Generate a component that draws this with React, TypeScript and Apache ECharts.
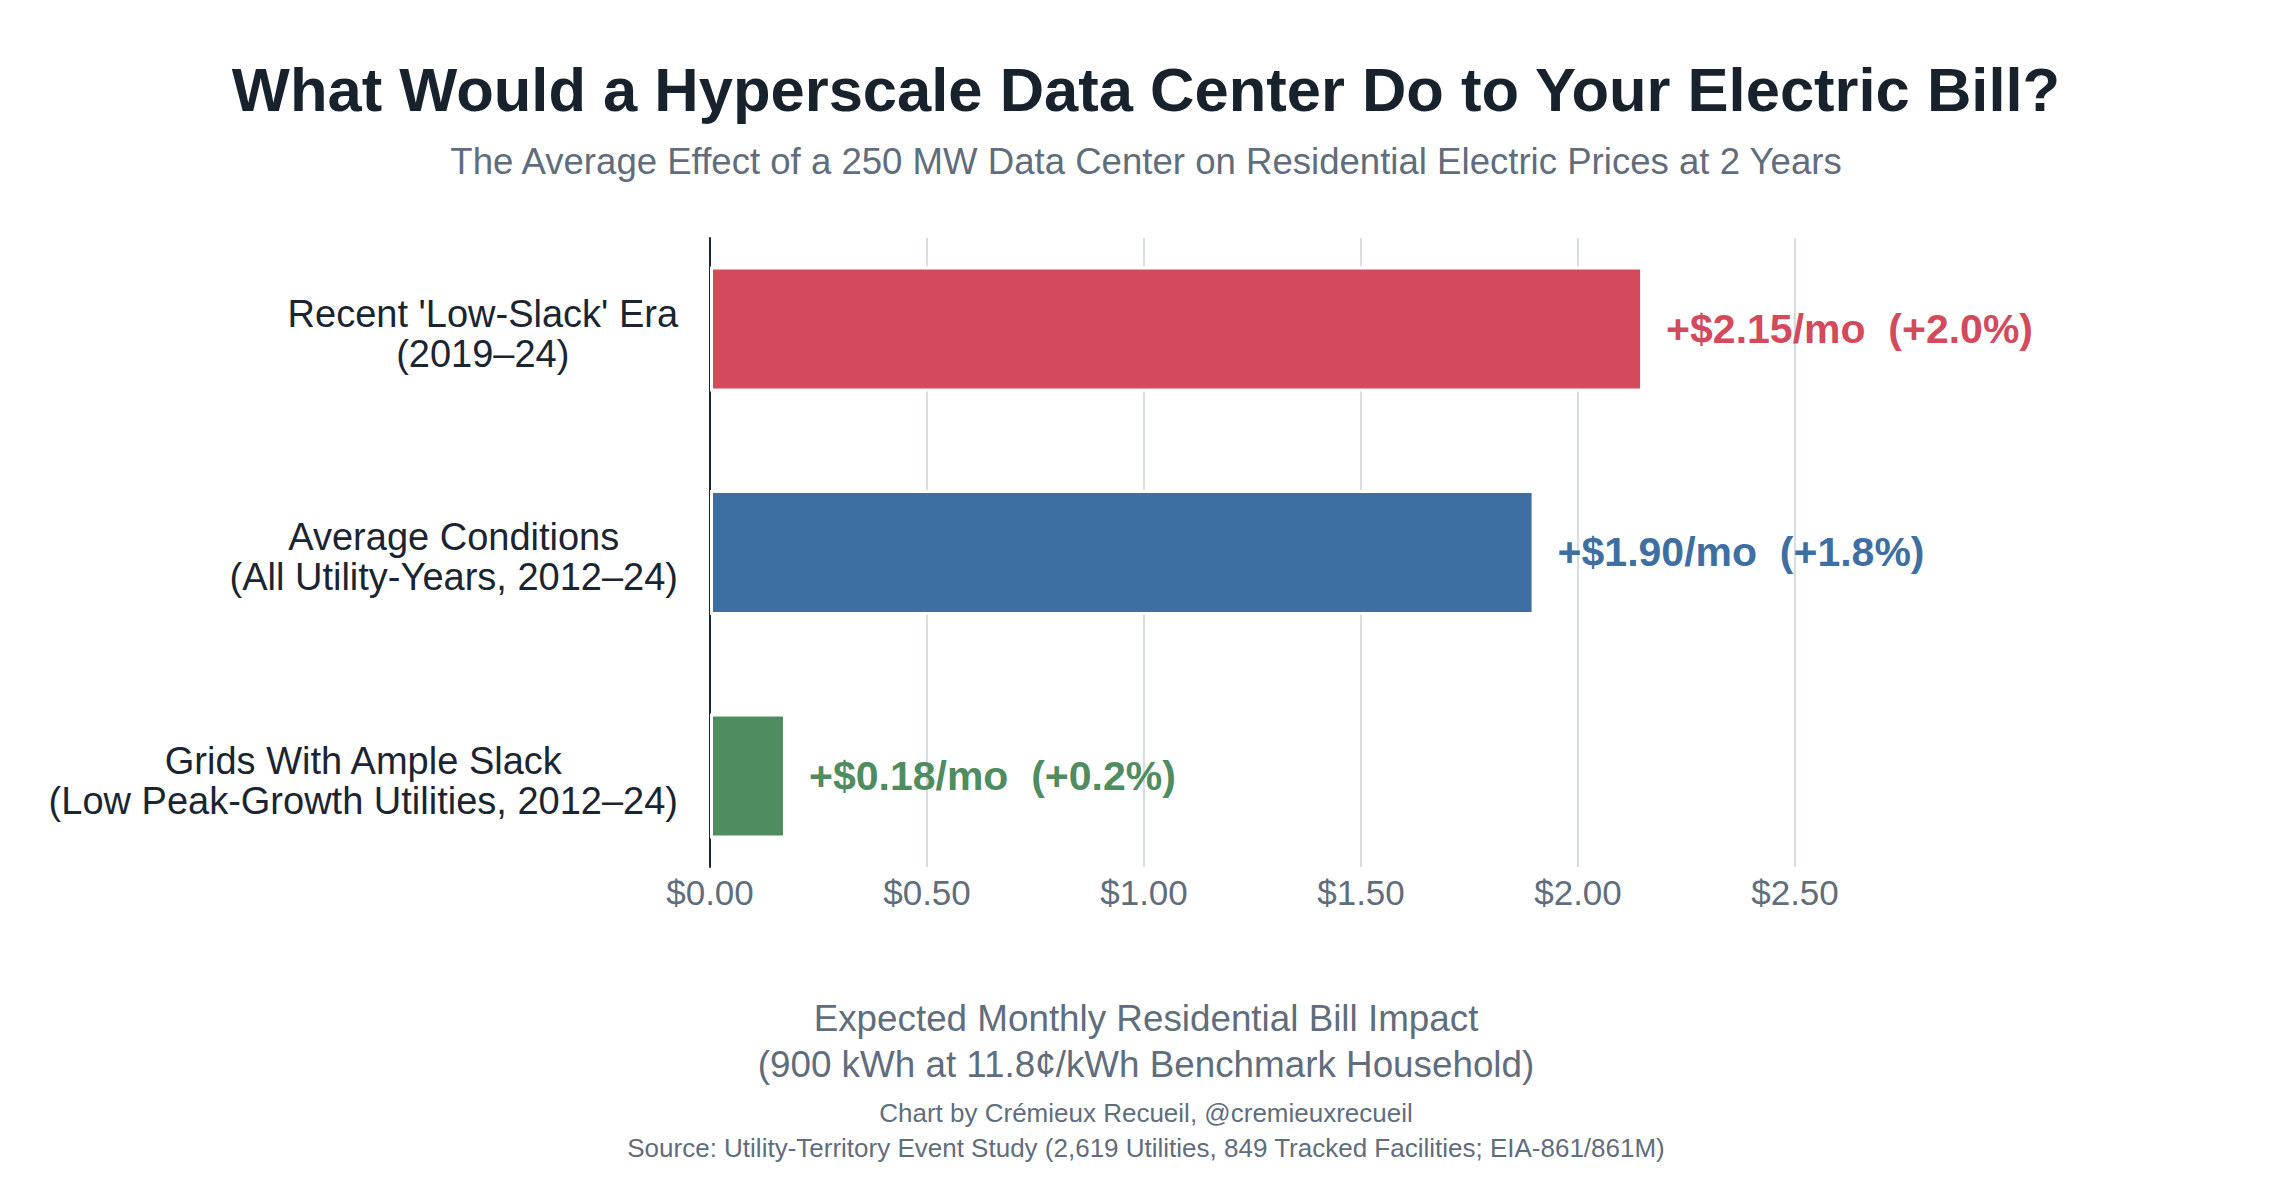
import React, { useEffect, useRef } from "react";
import * as echarts from "echarts";

const categories = [
  "Recent 'Low-Slack' Era\n(2019–24)",
  "Average Conditions\n(All Utility-Years, 2012–24)",
  "Grids With Ample Slack\n(Low Peak-Growth Utilities, 2012–24)",
];
const impactValues = [2.15, 1.9, 0.175];
const valueLabels = ["+$2.15/mo  (+2.0%)", "+$1.90/mo  (+1.8%)", "+$0.18/mo  (+0.2%)"];
const barColors = ["#d34a5c", "#3e6fa3", "#4f8c5f"];
const xMin = 0;
const xMax = 2.5;
const xInterval = 0.5;

const titleText = "What Would a Hyperscale Data Center Do to Your Electric Bill?";
const subtitleText = "The Average Effect of a 250 MW Data Center on Residential Electric Prices at 2 Years";
const axisTitleLines = [
  "Expected Monthly Residential Bill Impact",
  "(900 kWh at 11.8¢/kWh Benchmark Household)",
];
const creditLines = [
  "Chart by Crémieux Recueil, @cremieuxrecueil",
  "Source: Utility-Territory Event Study (2,619 Utilities, 849 Tracked Facilities; EIA-861/861M)",
];

const FONT = "'Liberation Sans', Arial, Helvetica, sans-serif";
const DARK = "#18222d";
const GRAY = "#5f6d7c";
const CX = 1146;

export default function App() {
  const ref = useRef<HTMLDivElement>(null);

  useEffect(() => {
    document.body.style.margin = "0";
    if (!ref.current) return;
    const chart = echarts.init(ref.current, null, { renderer: "svg" });

    const textEl = (text: string, x: number, y: number, size: number, color: string, weight = "normal") => ({
      type: "text",
      x,
      y,
      silent: true,
      style: {
        text,
        fontSize: size,
        fontWeight: weight,
        fontFamily: FONT,
        fill: color,
        align: "center",
        verticalAlign: "middle",
      },
    });

    const option: any = {
      animation: false,
      backgroundColor: "#ffffff",
      grid: [
        { left: 710, right: 493, top: 217.1, bottom: 300.25 },
        { left: 710, right: 493, top: 238, bottom: 321 },
      ],
      xAxis: [
        {
          type: "value",
          gridIndex: 0,
          min: xMin,
          max: xMax,
          interval: xInterval,
          show: false,
        },
        {
          type: "value",
          gridIndex: 1,
          min: xMin,
          max: xMax,
          interval: xInterval,
          axisLine: { show: false },
          axisTick: { show: false },
          splitLine: { show: true, lineStyle: { color: "#d8dde4", width: 2 } },
          axisLabel: {
            margin: 8,
            fontSize: 35,
            fontFamily: FONT,
            color: GRAY,
            formatter: (v: number) => "$" + v.toFixed(2),
          },
        },
      ],
      yAxis: [
        {
          type: "category",
          gridIndex: 0,
          data: categories,
          inverse: true,
          axisLine: { show: false },
          axisTick: { show: false },
          splitLine: { show: false },
          axisLabel: {
            margin: 32,
            padding: [10, 0, 0, 0],
            formatter: (v: string) =>
              v
                .split("\n")
                .map((s) => "{c|" + s + "}")
                .join("\n"),
            rich: {
              c: {
                align: "center",
                fontSize: 38,
                lineHeight: 40,
                fontFamily: FONT,
                color: "#1b2531",
              },
            },
          },
        },
        {
          type: "value",
          gridIndex: 1,
          min: 0,
          max: 1,
          axisLine: { show: true, lineStyle: { color: "#1b2531", width: 2 } },
          axisTick: { show: false },
          axisLabel: { show: false },
          splitLine: { show: false },
        },
      ],
      series: [
        {
          type: "bar",
          xAxisIndex: 0,
          yAxisIndex: 0,
          barWidth: 125,
          data: impactValues.map((v, i) => ({
            value: v,
            itemStyle: { color: barColors[i], borderColor: "#ffffff", borderWidth: 3 },
            label: { color: barColors[i] },
          })),
          label: {
            show: true,
            position: "right",
            distance: 23,
            fontSize: 41,
            fontWeight: "bold",
            fontFamily: FONT,
            formatter: (p: any) => valueLabels[p.dataIndex],
          },
          z: 5,
        },
      ],
      graphic: [
        textEl(titleText, CX, 89, 61.5, DARK, "bold"),
        textEl(subtitleText, CX, 161, 36.6, GRAY),
        textEl(axisTitleLines[0], CX, 1018, 36.8, GRAY),
        textEl(axisTitleLines[1], CX, 1064, 36.8, GRAY),
        textEl(creditLines[0], CX, 1113, 26, GRAY),
        textEl(creditLines[1], CX, 1148, 26, GRAY),
      ],
    };

    chart.setOption(option);
    return () => chart.dispose();
  }, []);

  return (
    <div
      ref={ref}
      style={{ position: "fixed", left: 0, top: 0, width: 2288, height: 1188, background: "#fff" }}
    />
  );
}
